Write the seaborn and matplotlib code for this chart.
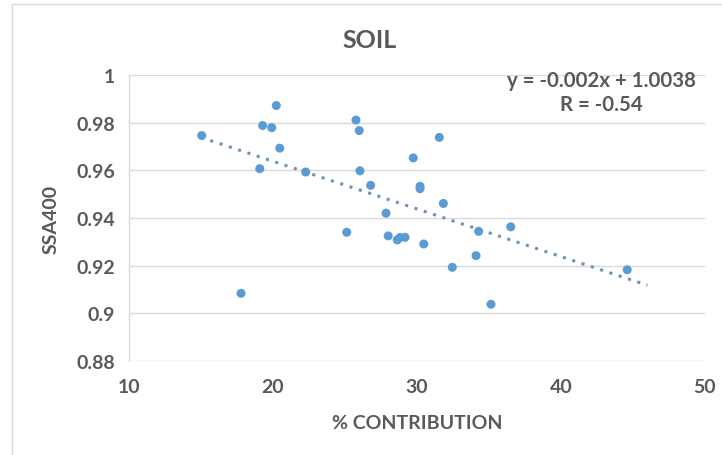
import matplotlib
matplotlib.use("Agg")
import matplotlib.pyplot as plt
import seaborn as sns
import pandas as pd
import numpy as np
from matplotlib.lines import Line2D

contribution = [15.05, 17.78, 19.08, 19.28, 19.91, 20.23, 20.47, 22.27, 25.12, 25.76,
                25.99, 26.04, 26.78, 27.85, 28.0, 28.63, 28.82, 29.17, 29.74, 30.21,
                30.21, 30.47, 31.55, 31.83, 32.45, 34.10, 34.28, 35.14, 36.51, 44.6]
ssa400 = [0.9746, 0.9084, 0.9607, 0.9788, 0.9779, 0.9872, 0.9693, 0.9593, 0.9340, 0.9811,
          0.9767, 0.9598, 0.9537, 0.9420, 0.9325, 0.9308, 0.9318, 0.9319, 0.9652, 0.9533,
          0.9523, 0.9291, 0.9738, 0.9461, 0.9193, 0.9242, 0.9344, 0.9038, 0.9363, 0.9183]

slope = -0.002
intercept = 1.0038
trend_x = [15.0, 46.0]
x_ticks = [10, 20, 30, 40, 50]
y_ticks = [0.88, 0.9, 0.92, 0.94, 0.96, 0.98, 1.0]
y_tick_labels = ["0.88", "0.9", "0.92", "0.94", "0.96", "0.98", "1"]

sns.set_style("white")
plt.rcParams['font.family'] = ['Lato', 'DejaVu Sans']

df = pd.DataFrame({"contribution": contribution, "ssa400": ssa400})

fig = plt.figure(figsize=(7.22, 4.56), dpi=100)
ax = fig.add_axes([129/722, 1-362/456, (705-129)/722, (362-76)/456])

txt_color = "#595959"
grid_color = "#d9d9d9"

for yv in y_ticks:
    ax.axhline(yv, color=grid_color, lw=1.0, zorder=0)

tx = np.array(trend_x)
ax.plot(tx, slope * tx + intercept, linestyle=(0, (1, 2.2)), color="#7090b5", lw=2.2, zorder=2)

sns.scatterplot(data=df, x="contribution", y="ssa400", ax=ax, color="#5b9bd5",
                s=42, edgecolor="none", zorder=3, legend=False)

ax.set_xlim(10, 50)
ax.set_ylim(0.88, 1.0)
ax.set_xticks(x_ticks)
ax.set_xticklabels([str(v) for v in x_ticks])
ax.set_yticks(y_ticks)
ax.set_yticklabels(y_tick_labels)
ax.tick_params(axis="both", length=0, labelsize=14, labelcolor=txt_color)
ax.tick_params(axis="x", pad=12)
ax.tick_params(axis="y", pad=10)
for lab in ax.get_xticklabels() + ax.get_yticklabels():
    lab.set_fontweight("bold")

for side in ["top", "right", "bottom"]:
    ax.spines[side].set_visible(False)
ax.spines["left"].set_color(grid_color)
ax.spines["left"].set_linewidth(1.0)

ax.set_xlabel("% CONTRIBUTION", fontsize=14, fontweight="bold", color=txt_color, labelpad=14)
ax.set_ylabel("SSA400", fontsize=14, fontweight="bold", color=txt_color, labelpad=12)

fig.text(370/722, 1-40/456, "SOIL", ha="center", va="center", fontsize=18,
         fontweight="bold", color=txt_color)
fig.text(601/722, 1-93/456, "y = -0.002x + 1.0038\nR = -0.54", ha="center", va="center",
         fontsize=14.7, fontweight="bold", color=txt_color, linespacing=1.3)

# chart border
fig.add_artist(Line2D([12/722, 12/722], [0, 1-5/456], transform=fig.transFigure,
                      color=grid_color, lw=1.0))
fig.add_artist(Line2D([12/722, 1], [1-5/456, 1-5/456], transform=fig.transFigure,
                      color=grid_color, lw=1.0))

fig.savefig("out.png", dpi=100)
